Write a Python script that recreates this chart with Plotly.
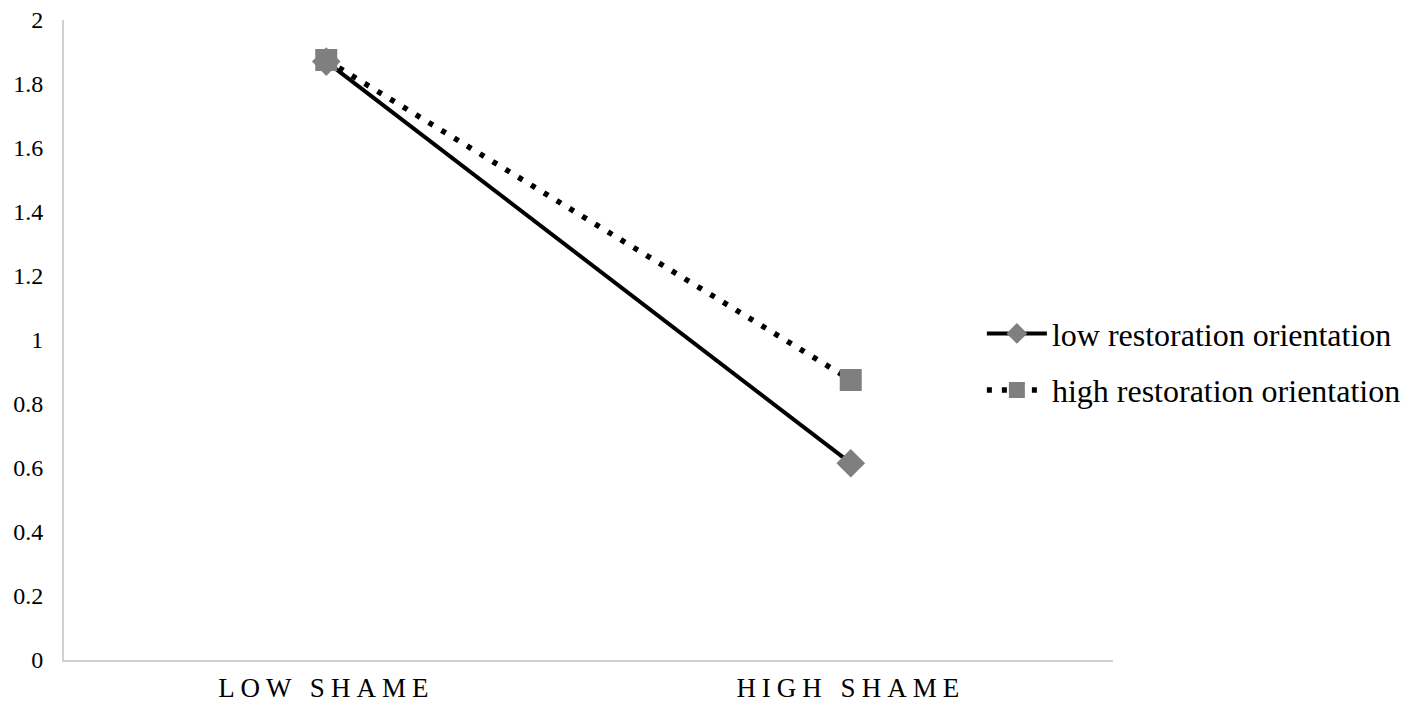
import plotly.graph_objs as go

# Datos
categorias = ['LOW SHAME', 'HIGH SHAME']
series = ['low restoration orientation', 'high restoration orientation']
valores_low = [1.87, 0.615]
valores_high = [1.875, 0.875]
ticks_y = [0, 0.2, 0.4, 0.6, 0.8, 1, 1.2, 1.4, 1.6, 1.8, 2]
ticks_y_text = ['0', '0.2', '0.4', '0.6', '0.8', '1', '1.2', '1.4', '1.6', '1.8', '2']

fuente = 'Liberation Serif'

# Etiquetas del eje x con espaciado entre letras
ticks_x_text = ['<span style="letter-spacing:6px">{}</span>'.format(c) for c in categorias]

fig = go.Figure()

fig.add_trace(go.Scatter(
    x=categorias,
    y=valores_low,
    name=series[0],
    legendgroup='a',
    mode='lines+markers',
    line=dict(color='black', width=4),
    marker=dict(symbol='diamond', size=22, color='#7f7f7f'),
))

fig.add_trace(go.Scatter(
    x=categorias,
    y=valores_high,
    name=series[1],
    legendgroup='b',
    mode='lines+markers',
    line=dict(color='black', width=5.5, dash='5px,10px'),
    marker=dict(symbol='square', size=22, color='#7f7f7f'),
))

# La página tiene 8px de margen en el body: se compensa en el tamaño y los márgenes
fig.update_layout(
    width=1410,
    height=696,
    plot_bgcolor='#fff',
    paper_bgcolor='#fff',
    margin=dict(l=56, r=300, t=12, b=44),
    font=dict(family=fuente, size=22, color='black'),
    showlegend=True,
    legend=dict(
        x=0.875,
        y=0.553,
        xanchor='left',
        yanchor='top',
        font=dict(family=fuente, size=32, color='black'),
        bgcolor='rgba(255,255,255,0)',
        itemwidth=60,
        traceorder='grouped',
        tracegroupgap=12,
    ),
    xaxis=dict(
        type='category',
        range=[-0.5, 1.5],
        tickvals=categorias,
        ticktext=ticks_x_text,
        showline=True, linewidth=2, linecolor='#d0d0d0',
        showgrid=False, zeroline=False,
        ticks='',
        automargin=False,
        ticklabelstandoff=3,
        tickfont=dict(family=fuente, size=27, color='black'),
    ),
    yaxis=dict(
        range=[0, 2],
        tickvals=ticks_y,
        ticktext=ticks_y_text,
        showline=True, linewidth=2, linecolor='#d0d0d0',
        showgrid=False, zeroline=False,
        ticks='',
        automargin=False,
        ticklabeloverflow='allow',
        ticklabelstandoff=14,
        tickfont=dict(family=fuente, size=24, color='black'),
    ),
)

fig.write_html('out.html')
